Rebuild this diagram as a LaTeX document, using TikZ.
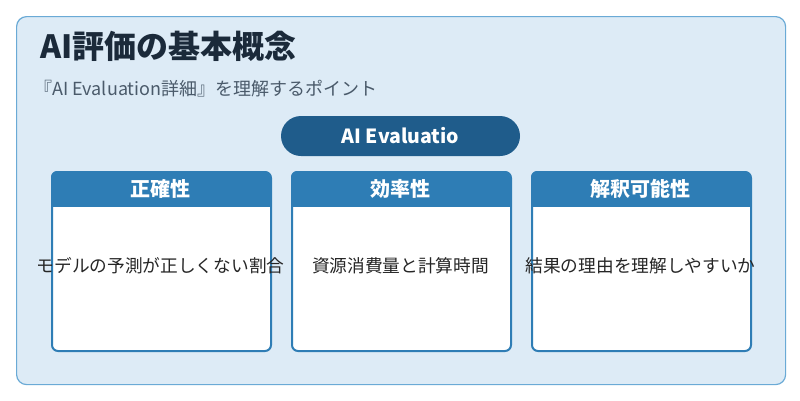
\documentclass[tikz,border=0pt]{standalone}
\usepackage{fontspec}
\setmainfont{Noto Sans CJK JP}
\definecolor{bgc}{HTML}{DDEBF6}
\definecolor{bdc}{HTML}{6AAAD6}
\definecolor{navy}{HTML}{1F5C8B}
\definecolor{hdr}{HTML}{2E7DB5}
\definecolor{ttl}{HTML}{1B2A3A}
\definecolor{sub}{HTML}{4A5A6A}
\tikzset{
 card/.style={draw=hdr,line width=2pt,fill=white,rounded corners=6pt},
 cardtxt/.style={font=\fontsize{17.7}{20}\selectfont,text=black!85},
 hdrtxt/.style={font=\fontsize{20}{23}\selectfont\bfseries,text=white}
}
\begin{document}
\begin{tikzpicture}[x=1pt,y=-1pt]
\useasboundingbox (0,0) rectangle (800,400);
\fill[white] (0,0) rectangle (800,400);
\node[draw=bdc,line width=1.2pt,fill=bgc,rounded corners=10pt,minimum width=769pt,minimum height=368pt,anchor=north west] (outer) at (16,16) {};
\node[anchor=west,inner sep=0pt,font=\fontsize{32}{36}\selectfont\bfseries,text=ttl] (title) at (40,46) {AI評価の基本概念};
\node[anchor=west,inner sep=0pt,font=\fontsize{18}{21}\selectfont,text=sub] (subtitle) at (34,89) {『AI Evaluation詳細』を理解するポイント};
\node[fill=navy,rounded corners=20pt,minimum width=239pt,minimum height=40pt,font=\fontsize{19.5}{22}\selectfont\bfseries,text=white] (pill) at (400.5,136) {AI Evaluatio};
\foreach \x/\h/\b/\n in {51/正確性/モデルの予測が正しくない割合/c1,291/効率性/資源消費量と計算時間/c2,531/解釈可能性/結果の理由を理解しやすいか/c3}{
 \node[card,minimum width=219pt,minimum height=179pt,anchor=north west] (\n) at (\x,171) {};
 \begin{scope}
 \clip[rounded corners=6pt] (\x,171) rectangle ++(219,179);
 \fill[hdr] (\x,171) rectangle ++(219,36);
 \end{scope}
 \node[hdrtxt] (\n h) at (\x+109.5,189) {\h};
 \node[cardtxt] (\n b) at (\x+109.5,266) {\b};
}
\end{tikzpicture}
\end{document}
